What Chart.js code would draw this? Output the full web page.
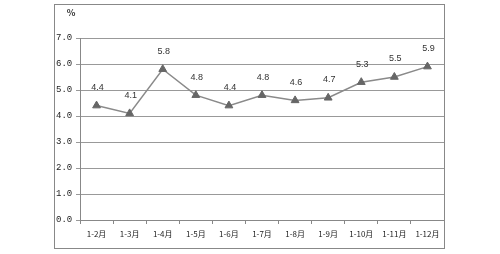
<!DOCTYPE html>
<html>
<head>
<meta charset="utf-8">
<script src="https://cdn.jsdelivr.net/npm/chart.js@4.4.0/dist/chart.umd.min.js"></script>
<style>
  html, body { margin: 0; padding: 0; background: #fff; }
  #wrap { width: 500px; height: 254px; }
</style>
</head>
<body>
<div id="wrap"><canvas id="c" width="500" height="254"></canvas></div>
<script>
const labels = ['1-2月', '1-3月', '1-4月', '1-5月', '1-6月', '1-7月', '1-8月', '1-9月', '1-10月', '1-11月', '1-12月']
const values = [4.4, 4.1, 5.8, 4.8, 4.4, 4.8, 4.6, 4.7, 5.3, 5.5, 5.9]
const yTicks = [0, 1, 2, 3, 4, 5, 6, 7]
const unit = '%'

// outer frame, unit label and the value labels above the points
const extras = {
  id: 'extras',
  beforeDraw(chart) {
    const ctx = chart.ctx
    ctx.save()
    ctx.fillStyle = '#fff'
    ctx.fillRect(0, 0, chart.width, chart.height)
    ctx.strokeStyle = '#888'
    ctx.lineWidth = 1
    ctx.strokeRect(54.5, 4.5, 390, 244)
    ctx.fillStyle = '#333'
    ctx.font = 'bold 9px "Noto Sans CJK SC"'
    ctx.textAlign = 'center'
    ctx.textBaseline = 'middle'
    ctx.fillText(unit, 71, 13)
    ctx.restore()
  },
  afterDatasetsDraw(chart) {
    const ctx = chart.ctx
    const meta = chart.getDatasetMeta(0)
    ctx.save()
    ctx.fillStyle = '#333'
    ctx.font = '9px "Liberation Sans"'
    ctx.textAlign = 'center'
    ctx.textBaseline = 'middle'
    meta.data.forEach((pt, i) => {
      ctx.fillText(values[i].toFixed(1), pt.x + 1, pt.y - 18)
    })
    ctx.restore()
  }
}

new Chart(document.getElementById('c'), {
  type: 'line',
  data: {
    labels: labels,
    datasets: [{
      data: values,
      borderColor: '#8a8a8a',
      borderWidth: 1.5,
      pointStyle: 'triangle',
      pointRadius: 4.5,
      pointBackgroundColor: '#666',
      pointBorderColor: '#666',
      pointBorderWidth: 1,
      tension: 0,
    }],
  },
  options: {
    responsive: false,
    animation: false,
    layout: { padding: { left: 56, right: 56, top: 38, bottom: 5 } },
    plugins: { legend: { display: false }, tooltip: { enabled: false } },
    scales: {
      x: {
        offset: true,
        grid: { offset: true, drawOnChartArea: false, drawTicks: true, tickLength: 4, color: '#888' },
        border: { color: '#888', width: 1 },
        ticks: {
          color: '#222', font: { family: '"Noto Sans CJK SC"', size: 8 },
          maxRotation: 0, autoSkip: false, padding: 5,
        },
        afterFit(scale) { scale.height = 29 },
      },
      y: {
        min: 0, max: 7,
        afterBuildTicks(scale) { scale.ticks = yTicks.map(v => ({ value: v })) },
        grid: { color: '#999', tickLength: 4, drawTicks: true },
        border: { color: '#888', width: 1 },
        ticks: {
          color: '#222', font: { family: '"Liberation Mono"', size: 9 },
          padding: 1, crossAlign: 'far',
          callback: v => v.toFixed(1),
        },
        afterFit(scale) { scale.width = 24 },
      },
    },
  },
  plugins: [extras],
})
</script>
</body>
</html>
